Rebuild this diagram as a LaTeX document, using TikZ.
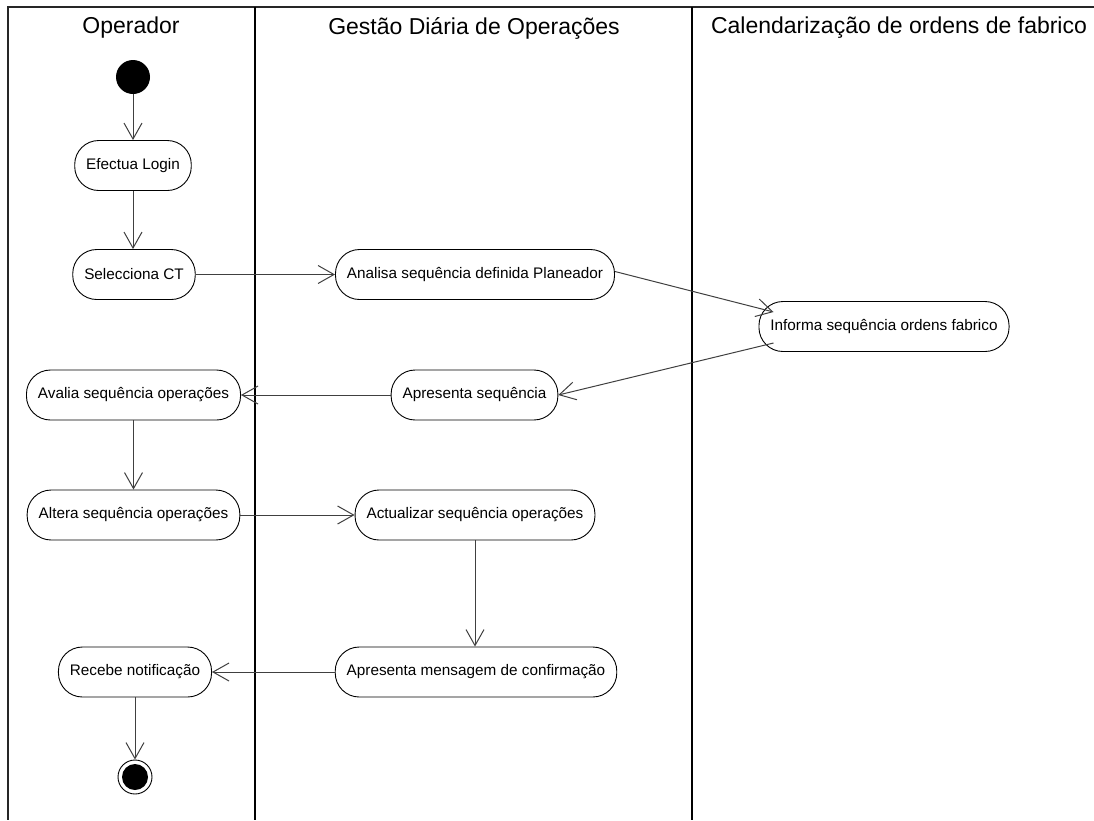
\documentclass[tikz,border=0pt]{standalone}
\usepackage{fontspec}
\setmainfont{Liberation Sans}
\usetikzlibrary{arrows.meta,calc}
\begin{document}
\begin{tikzpicture}[x=1pt,y=-1pt,
  lane/.style={line width=1.5pt,draw=black!85},
  action/.style={draw=black,line width=0.9pt,rounded corners=24pt,
    minimum height=50pt,inner xsep=11.5pt,font=\fontsize{15.3}{18}\selectfont},
  lanetitle/.style={font=\fontsize{23}{27}\selectfont},
  flow/.style={draw=black!75,line width=1pt,
    -{Straight Barb[length=16pt,width=18pt,line width=1pt]}}]
\useasboundingbox (0,0) rectangle (1094,820);
\fill[white] (0,0) rectangle (1094,820);

% swimlane frame
\draw[lane] (1094,7) -- (8,7) -- (8,820);
\draw[lane,draw=black] (255,7) -- (255,820);
\draw[lane,draw=black] (692,7) -- (692,820);

% lane titles
\node[lanetitle] (t1) at (131,28) {Operador};
\node[lanetitle] (t2) at (474,28) {Gestão Diária de Operações};
\node[lanetitle] (t3) at (899,28) {Calendarização de ordens de fabrico};

% initial and final nodes
\node[circle,fill=black,minimum size=34pt,inner sep=0pt] (start) at (133,77) {};
\node[circle,draw=black,line width=0.9pt,minimum size=34pt,inner sep=0pt] (stop) at (135,777) {};
\fill[black] (stop.center) circle (13pt);

% actions
\node[action] (login) at (133,165.5) {Efectua Login};
\node[action] (ct)    at (134,274.5) {Selecciona CT};
\node[action] (ana)   at (475,274.5) {Analisa sequência definida Planeador};
\node[action] (inf)   at (884,326.5) {Informa sequência ordens fabrico};
\node[action] (apr)   at (474.5,395) {Apresenta sequência};
\node[action] (aval)  at (133.5,395) {Avalia sequência operações};
\node[action] (alt)   at (133.5,515) {Altera sequência operações};
\node[action] (act)   at (475,515) {Actualizar sequência operações};
\node[action] (msg)   at (476,672) {Apresenta mensagem de confirmação};
\node[action] (rec)   at (135,672) {Recebe notificação};

% control flow
\draw[flow] (start) -- (login);
\draw[flow] (login) -- (login |- ct.north);
\draw[flow] (ct) -- (ana);
\draw[flow] ($(ana.east)+(0,-3)$) -- ($(inf.west)+(15,-14.5)$);
\draw[flow] ($(inf.west)+(15,16.5)$) -- (apr.east);
\draw[flow] (apr) -- (aval);
\draw[flow] (aval) -- (alt);
\draw[flow] (alt) -- (act);
\draw[flow] (act) -- (act |- msg.north);
\draw[flow] (msg) -- (rec);
\draw[flow] (rec) -- (stop);
\end{tikzpicture}
\end{document}
